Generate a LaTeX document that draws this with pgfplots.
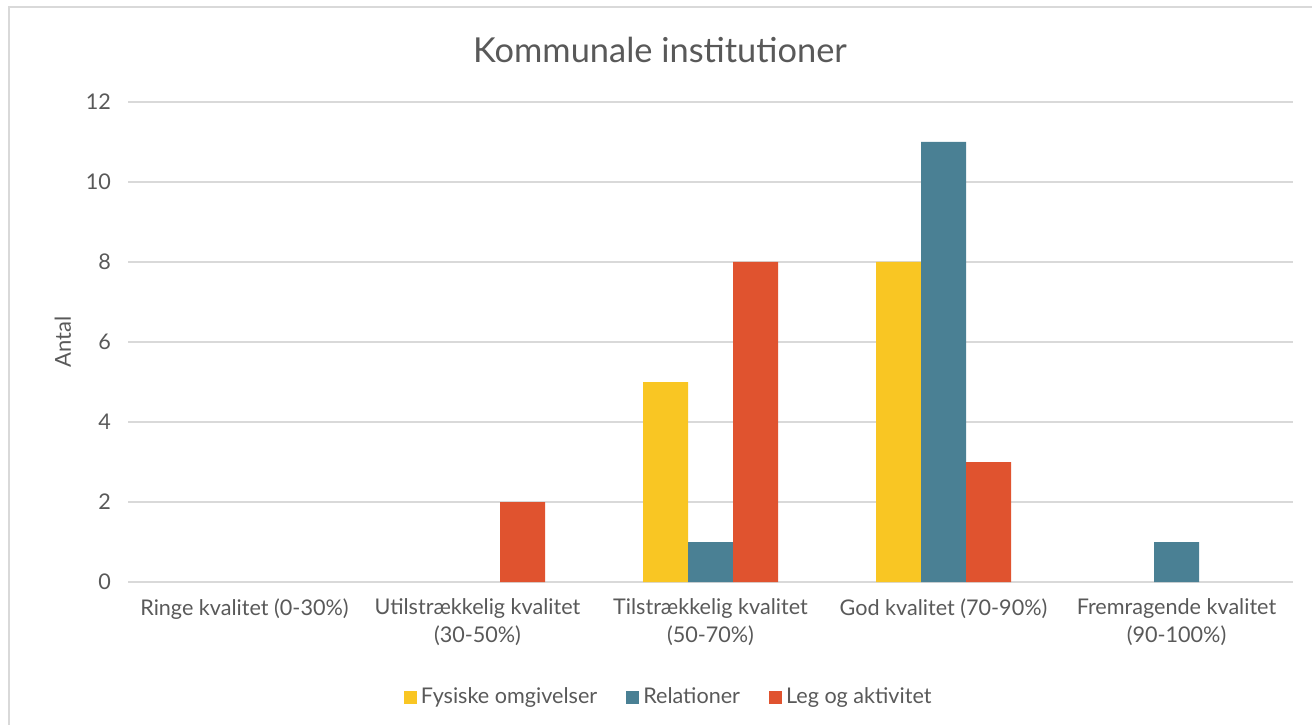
\documentclass[border=0pt]{standalone}
\usepackage{pgfplots}
\pgfplotsset{compat=1.18}
\usepackage{fontspec}
\setmainfont{Lato}
\definecolor{cyel}{HTML}{F9C623}
\definecolor{cteal}{HTML}{4A8094}
\definecolor{cred}{HTML}{E0532F}
\definecolor{ctext}{HTML}{595959}
\definecolor{cgrid}{HTML}{D9D9D9}
\begin{document}
\begin{tikzpicture}
% page = 1312 x 724 px, 0.5pt per px
\path[use as bounding box] (0pt,0pt) rectangle (656pt,362pt);
\draw[cgrid, line width=1.2pt] (4.5pt,-3pt) -- (4.5pt,358.5pt) -- (660pt,358.5pt);
\node[text=ctext, font=\fontsize{17.2}{20}\selectfont] at (330pt,337pt) {Kommunale institutioner};
\begin{axis}[
    at={(64pt,71pt)}, anchor=south west,
    scale only axis, width=582.5pt, height=240pt,
    ybar=0pt, bar width=22.5pt,
    xmin=-0.5, xmax=4.5, ymin=0, ymax=12,
    ytick={0,2,...,12},
    xtick={0,1,2,3,4},
    xticklabels={Ringe kvalitet (0-30\%),
                 {Utilstrækkelig kvalitet\\(30-50\%)},
                 {Tilstrækkelig kvalitet\\(50-70\%)},
                 God kvalitet (70-90\%),
                 {Fremragende kvalitet\\(90-100\%)}},
    xticklabel style={align=center, text=ctext, font=\fontsize{10.8}{14}\selectfont, yshift=-5pt},
    yticklabel style={text=ctext, font=\fontsize{10.8}{13}\selectfont, xshift=-5pt},
    /pgf/number format/assume math mode=true,
    major tick length=0pt,
    axis line style={draw=none},
    ymajorgrids, grid style={cgrid, line width=0.9pt},
    ylabel={Antal},
    ylabel style={at={(axis description cs:-0.056,0.5)}, anchor=center, text=ctext, font=\fontsize{11}{13}\selectfont},
    legend style={at={(0.465,-0.240)}, anchor=center, draw=none, fill=none,
                  legend columns=3, text=ctext, font=\fontsize{10.8}{13}\selectfont,
                  /tikz/every even column/.append style={column sep=12.5pt}},
    legend image code/.code={\fill[#1] (0pt,-3.2pt) rectangle (6.5pt,3.3pt);},
]
\addplot[fill=cyel, draw=none] coordinates {(2,5) (3,8)};
\addplot[fill=cteal, draw=none] coordinates {(2,1) (3,11) (4,1)};
\addplot[fill=cred, draw=none] coordinates {(1,2) (2,8) (3,3)};
\legend{Fysiske omgivelser, Relationer, Leg og aktivitet}
\end{axis}
\end{tikzpicture}
\end{document}
